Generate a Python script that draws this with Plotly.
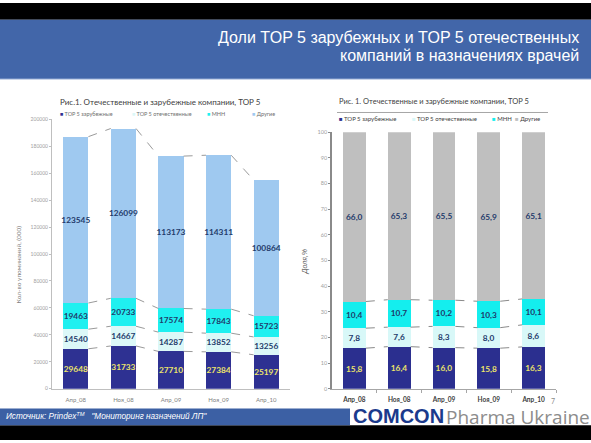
import plotly.graph_objects as go

# ---------------- data ----------------
categories = ["Апр_08", "Ноя_08", "Апр_09", "Ноя_09", "Апр_10"]
series_names = ["TOP 5 зарубежные", "TOP 5 отечественные", "МНН", "Другие"]

cnt_foreign = [29648, 31733, 27710, 27384, 25197]
cnt_domestic = [14540, 14667, 14287, 13852, 13256]
cnt_mnn = [19463, 20733, 17574, 17843, 15723]
cnt_other = [123545, 126099, 113173, 114311, 100864]

sh_foreign = [15.8, 16.4, 16.0, 15.8, 16.3]
sh_domestic = [7.8, 7.6, 8.3, 8.0, 8.6]
sh_mnn = [10.4, 10.7, 10.2, 10.3, 10.1]
sh_other = [66.0, 65.3, 65.5, 65.9, 65.1]

left_ticks = list(range(0, 200001, 20000))
right_ticks = list(range(0, 101, 10))

title_line1 = "Доли TOP 5 зарубежных и TOP 5 отечественных"
title_line2 = "компаний в назначениях врачей"
chart_title = "Рис.1. Отечественные и зарубежные компании, TOP 5"
chart_title_r = "Рис. 1. Отечественные и зарубежные компании, TOP 5"
source_text = "Источник: Prindex<sup>TM</sup>   \"Мониторинг назначений ЛП\""

# ---------------- style ----------------
W, H = 591, 443
FONT = "Lato"
left_colors = ["#2e3192", "#dcf8f8", "#1ff0f0", "#9fc9f0"]
right_colors = ["#2b2f8f", "#d8f8f8", "#14eeee", "#bfbfbf"]
lbl_colors = ["#ece46a", "#1f3b6b", "#1f3b6b", "#1f3b6b"]
bw_left = 0.53
bw_right = 0.51

def px_x(p):
    return p / W

def px_y(p):
    return 1 - p / H

idx = list(range(len(categories)))
fig = go.Figure()

left_vals = [cnt_foreign, cnt_domestic, cnt_mnn, cnt_other]
right_vals = [sh_foreign, sh_domestic, sh_mnn, sh_other]

for k, name in enumerate(series_names):
    fig.add_trace(go.Bar(
        x=idx, y=left_vals[k], name=name, width=bw_left,
        marker=dict(color=left_colors[k], line=dict(width=0)),
        text=[str(v) for v in left_vals[k]], textposition="inside",
        insidetextanchor="middle", textangle=0,
        textfont=dict(family=FONT, size=8.5, color=lbl_colors[k], weight="bold"),
        xaxis="x", yaxis="y", showlegend=False, hoverinfo="skip"))

for k, name in enumerate(series_names):
    fig.add_trace(go.Bar(
        x=idx, y=right_vals[k], name=name, width=bw_right,
        marker=dict(color=right_colors[k], line=dict(width=0)),
        text=[f"{v:.1f}".replace(".", ",") for v in right_vals[k]], textposition="inside",
        insidetextanchor="middle", textangle=0,
        textfont=dict(family=FONT, size=9.5, color=lbl_colors[k], weight="bold"),
        xaxis="x2", yaxis="y2", showlegend=False, hoverinfo="skip"))

def series_lines(vals, w, levels):
    cum = []
    run = [0] * len(vals[0])
    for s in vals:
        run = [a + b for a, b in zip(run, s)]
        cum.append(run)
    xs, ys = [], []
    for k in levels:
        for i in range(len(run) - 1):
            xs += [i + w / 2, i + 1 - w / 2, None]
            ys += [cum[k][i], cum[k][i + 1], None]
    return xs, ys

lx, ly = series_lines(left_vals, bw_left, [0, 1, 2, 3])
fig.add_trace(go.Scatter(x=lx, y=ly, mode="lines", xaxis="x", yaxis="y",
                         line=dict(color="#9a9a9a", width=1, dash="dash"),
                         showlegend=False, hoverinfo="skip"))
rx, ry = series_lines(right_vals, bw_right, [0, 1, 2])
fig.add_trace(go.Scatter(x=rx, y=ry, mode="lines", xaxis="x2", yaxis="y2",
                         line=dict(color="#8a8a8a", width=1, dash="dash"),
                         showlegend=False, hoverinfo="skip"))

shapes = [
    dict(type="rect", xref="paper", yref="paper", x0=0, x1=1, y0=px_y(17), y1=1,
         fillcolor="black", line=dict(width=0), layer="below"),
    dict(type="rect", xref="paper", yref="paper", x0=0, x1=1, y0=px_y(77), y1=px_y(17),
         fillcolor="#4266a9", line=dict(width=0), layer="below"),
    dict(type="line", xref="paper", yref="paper", x0=0, x1=1, y0=px_y(77), y1=px_y(77),
         line=dict(color="#8aa3cf", width=1)),
    dict(type="rect", xref="paper", yref="paper", x0=0, x1=1, y0=0, y1=px_y(428),
         fillcolor="black", line=dict(width=0), layer="below"),
    dict(type="rect", xref="paper", yref="paper", x0=0, x1=px_x(350), y0=px_y(428), y1=px_y(411),
         fillcolor="#3c60a4", line=dict(width=0), layer="below"),
    dict(type="line", xref="paper", yref="paper", x0=px_x(337), x1=px_x(548), y0=px_y(111), y1=px_y(111),
         line=dict(color="#a6a6a6", width=1)),
]

def legend_text(colors):
    parts = []
    for c, n in zip(colors, series_names):
        parts.append(f'<span style="color:{c}">■</span> {n}')
    return parts

annotations = [
    dict(text=title_line1, xref="paper", yref="paper", x=px_x(581), y=px_y(35),
         xanchor="right", yanchor="middle", align="right", showarrow=False,
         font=dict(family="Liberation Sans", size=16, color="white")),
    dict(text=title_line2, xref="paper", yref="paper", x=px_x(581), y=px_y(53),
         xanchor="right", yanchor="middle", align="right", showarrow=False,
         font=dict(family="Liberation Sans", size=16, color="white")),
    dict(text=chart_title, xref="paper", yref="paper", x=px_x(160), y=px_y(100),
         xanchor="center", yanchor="middle", showarrow=False,
         font=dict(family=FONT, size=8, color="#404040")),
    dict(text=chart_title_r, xref="paper", yref="paper", x=px_x(337), y=px_y(100),
         xanchor="left", yanchor="middle", showarrow=False,
         font=dict(family=FONT, size=7.5, color="#404040")),
    dict(text="Кол-во упоминаний, (000)", xref="paper", yref="paper", x=px_x(18), y=px_y(265),
         textangle=-90, xanchor="center", yanchor="middle", showarrow=False,
         font=dict(family=FONT, size=6.5, color="#7f7f7f")),
    dict(text="<i>Доля,%</i>", xref="paper", yref="paper", x=px_x(305), y=px_y(262),
         textangle=-90, xanchor="center", yanchor="middle", showarrow=False,
         font=dict(family="Liberation Sans", size=7, color="#595959")),
    dict(text="<i>" + source_text + "</i>", xref="paper", yref="paper", x=px_x(4), y=px_y(419),
         xanchor="left", yanchor="middle", showarrow=False,
         font=dict(family="Liberation Sans", size=8.2, color="white")),
    dict(text="<b>COMCON</b>", xref="paper", yref="paper", x=px_x(351), y=px_y(419),
         xanchor="left", yanchor="middle", showarrow=False,
         font=dict(family="Liberation Sans", size=20, color="#1b3a8c")),
    dict(text="Pharma Ukraine", xref="paper", yref="paper", x=px_x(592), y=px_y(420),
         xanchor="right", yanchor="middle", showarrow=False,
         font=dict(family="Open Sans", size=19, color="#8c8c8c")),
    dict(text="7", xref="paper", yref="paper", x=px_x(553), y=px_y(403),
         xanchor="center", yanchor="middle", showarrow=False,
         font=dict(family=FONT, size=7, color="#8c8c8c")),
]

left_leg_x = [58, 130, 205, 250]
right_leg_x = [337, 410, 490, 513]
for k, t in enumerate(legend_text(left_colors)):
    annotations.append(dict(text=t, xref="paper", yref="paper", x=px_x(left_leg_x[k]), y=px_y(113),
                            xanchor="left", yanchor="middle", showarrow=False,
                            font=dict(family=FONT, size=5.5, color="#6f6f6f")))
for k, t in enumerate(legend_text(right_colors)):
    annotations.append(dict(text=t, xref="paper", yref="paper", x=px_x(right_leg_x[k]), y=px_y(117),
                            xanchor="left", yanchor="middle", showarrow=False,
                            font=dict(family=FONT, size=6, color="#404040")))

fig.update_layout(
    width=W, height=H, margin=dict(l=0, r=0, t=0, b=0),
    paper_bgcolor="white", plot_bgcolor="rgba(0,0,0,0)",
    barmode="stack", uniformtext=dict(minsize=8, mode="show"),
    shapes=shapes, annotations=annotations,
    xaxis=dict(domain=[px_x(52), px_x(290)], range=[-0.5, 4.5], tickvals=idx, ticktext=categories,
               showline=True, linecolor="#bfbfbf", ticks="", showgrid=False, zeroline=False,
               tickfont=dict(family=FONT, size=6, color="#7f7f7f"), ticklabelstandoff=5,
               anchor="y"),
    yaxis=dict(domain=[px_y(391), px_y(118)], range=[0, 200000], tickvals=left_ticks,
               tickformat="d", showline=True, linecolor="#bfbfbf", ticks="outside", ticklen=2,
               tickcolor="#bfbfbf", showgrid=False, zeroline=False,
               tickfont=dict(family=FONT, size=5, color="#a0a0a0"), anchor="x"),
    xaxis2=dict(domain=[px_x(332), px_x(556)], range=[-0.5, 4.5], tickvals=idx, ticktext=categories,
                showline=True, linecolor="#a6a6a6", ticks="", showgrid=False, zeroline=False,
                minor=dict(tickvals=[i + 0.5 for i in idx], ticks="outside", ticklen=3,
                           tickcolor="#a6a6a6"),
                tickfont=dict(family=FONT, size=6.5, color="#404040", weight="bold"),
                ticklabelstandoff=4, anchor="y2"),
    yaxis2=dict(domain=[px_y(391), px_y(131)], range=[0, 100], tickvals=right_ticks,
                showline=True, linecolor="#8a8a8a", linewidth=1.5, ticks="outside", ticklen=2,
                tickcolor="#8a8a8a", showgrid=False, zeroline=False,
                tickfont=dict(family=FONT, size=5.5, color="#a0a0a0"), anchor="x2"),
)

fig.write_html("out.html", config={"displayModeBar": False},
               post_script="document.body.style.margin='0';")
